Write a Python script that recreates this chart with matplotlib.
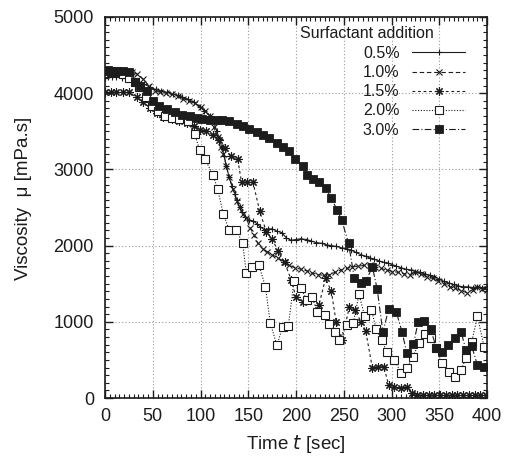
import matplotlib
matplotlib.use("Agg")
import matplotlib.pyplot as plt
from matplotlib.ticker import MultipleLocator

plt.rcParams['font.family'] = ['Liberation Sans', 'DejaVu Sans']

# ---------------- data ----------------
labels = ["0.5%", "1.0%", "1.5%", "2.0%", "3.0%"]
legend_title = "Surfactant addition"
x_label = "Time $t$ [sec]"
y_label = "Viscosity  μ [mPa.s]"

t05 = [0, 3, 7, 12, 18, 24, 29, 35, 41, 47, 53, 59, 65, 71, 76, 81, 87, 93, 99, 104,
       110, 114, 117, 120, 122, 125, 127, 130, 133, 136, 138, 141, 143, 147, 151, 155,
       159, 162, 167, 171, 175, 180, 185, 190, 195, 200, 205, 211, 216, 221, 227, 232,
       237, 242, 248, 253, 258, 263, 268, 273, 277, 282, 287, 292, 296, 301, 305, 310,
       315, 320, 325, 330, 335, 340, 345, 350, 355, 360, 365, 370, 375, 380, 385, 390,
       395, 400]
v05 = [4200, 4210, 4210, 4210, 4200, 4200, 4180, 4150, 4120, 4080, 4050, 4030, 4010,
       3990, 3970, 3950, 3920, 3880, 3820, 3770, 3700, 3620, 3500, 3400, 3300, 3170,
       3040, 2900, 2780, 2680, 2600, 2500, 2440, 2380, 2340, 2320, 2290, 2250, 2210,
       2220, 2220, 2190, 2170, 2100, 2070, 2080, 2090, 2080, 2060, 2040, 2030, 2010,
       2000, 1990, 1970, 1960, 1940, 1910, 1880, 1860, 1840, 1820, 1800, 1780, 1770,
       1750, 1730, 1710, 1690, 1680, 1660, 1650, 1630, 1610, 1590, 1560, 1530, 1510,
       1490, 1470, 1460, 1460, 1450, 1460, 1450, 1460]

t10 = [0, 5, 10, 16, 22, 28, 34, 40, 46, 52, 58, 64, 70, 76, 82, 88, 94, 100, 105, 110,
       114, 118, 121, 124, 127, 130, 134, 138, 141, 145, 148, 152, 156, 160, 165, 170,
       175, 181, 187, 193, 199, 205, 211, 217, 223, 229, 235, 241, 247, 253, 259, 265,
       271, 277, 283, 289, 295, 301, 307, 313, 319, 325, 331, 337, 343, 349, 355, 361,
       367, 373, 379, 385, 390, 395, 400]
v10 = [4280, 4290, 4290, 4290, 4290, 4280, 4250, 4180, 4100, 4030, 4010, 4000, 3990,
       3960, 3930, 3900, 3870, 3820, 3770, 3700, 3550, 3420, 3300, 3200, 3050, 2900,
       2740, 2580, 2500, 2420, 2360, 2230, 2140, 2030, 1960, 1920, 1880, 1840, 1790,
       1740, 1710, 1690, 1670, 1640, 1620, 1610, 1620, 1650, 1680, 1700, 1720, 1730,
       1740, 1750, 1720, 1700, 1680, 1660, 1650, 1630, 1620, 1650, 1630, 1590, 1570,
       1540, 1500, 1460, 1440, 1410, 1380, 1420, 1460, 1430, 1420]

t15 = [0, 6, 12, 19, 25, 33, 40, 47, 54, 61, 70, 78, 86, 93, 99, 106, 113, 119, 126,
       132, 139, 143, 149, 155, 162, 169, 175, 181, 188, 195, 200, 207, 212, 217, 224,
       231, 237, 242, 248, 256, 262, 268, 273, 280, 286, 292, 297, 303, 310, 316, 321,
       327, 333, 339, 345, 351, 357, 363, 369, 375, 381, 387, 393, 399]
v15 = [4020, 4020, 4020, 4020, 4010, 3950, 3880, 3810, 3740, 3690, 3660, 3630, 3610,
       3570, 3520, 3500, 3450, 3380, 3280, 3170, 3130, 2830, 2830, 2830, 2450, 2180,
       2090, 1930, 1780, 1550, 1320, 1260, 1290, 1320, 1220, 1570, 1400, 1000, 760,
       1200, 1150, 1000, 880, 390, 410, 410, 170, 145, 130, 145, 65, 40, 40, 40, 40,
       40, 40, 40, 40, 40, 40, 40, 40, 40]

t20 = [0, 6, 12, 19, 25, 31, 36, 43, 49, 55, 63, 70, 78, 87, 94, 99, 105, 113, 118,
       124, 130, 137, 144, 148, 154, 161, 168, 173, 180, 186, 192, 198, 205, 211, 217,
       222, 230, 235, 241, 245, 253, 260, 266, 272, 279, 284, 290, 295, 303, 310, 316,
       322, 329, 335, 341, 347, 353, 360, 366, 373, 378, 384, 390, 397]
v20 = [4270, 4280, 4280, 4250, 4200, 4150, 4080, 3950, 3830, 3760, 3700, 3680, 3660,
       3630, 3460, 3260, 3130, 2930, 2740, 2410, 2210, 2210, 2040, 1640, 1720, 1750,
       1460, 990, 690, 935, 950, 1540, 1450, 1290, 1330, 1130, 1090, 970, 870, 760,
       960, 990, 1360, 1070, 1160, 900, 760, 600, 500, 330, 390, 540, 720, 840, 790,
       660, 460, 340, 280, 370, 530, 740, 1070, 670]

t30 = [0, 3, 6, 9, 13, 19, 25, 31, 37, 44, 50, 57, 65, 73, 81, 89, 96, 102, 110, 117,
       123, 130, 138, 144, 151, 159, 165, 172, 180, 186, 193, 199, 207, 212, 218, 224,
       231, 237, 243, 248, 255, 261, 268, 273, 280, 285, 291, 297, 305, 311, 316, 323,
       328, 334, 341, 347, 353, 359, 366, 373, 378, 384, 390, 397]
v30 = [4290, 4300, 4290, 4290, 4290, 4290, 4280, 4150, 4100, 4030, 3900, 3830, 3790,
       3750, 3720, 3700, 3680, 3660, 3645, 3645, 3645, 3640, 3600, 3570, 3530, 3490,
       3450, 3410, 3350, 3300, 3240, 3130, 3040, 2930, 2870, 2830, 2760, 2620, 2470,
       2330, 2030, 1580, 1510, 1530, 1720, 1430, 860, 1170, 1130, 870, 590, 710, 1000,
       1010, 900, 660, 600, 700, 790, 860, 630, 680, 430, 410]

x_ticks = [0, 50, 100, 150, 200, 250, 300, 350, 400]
y_ticks = [0, 1000, 2000, 3000, 4000, 5000]

# ---------------- figure ----------------
W, H = 508, 461
fig = plt.figure(figsize=(W / 100, H / 100), dpi=100)
L, R, T, B = 105, 487, 17, 398
ax = fig.add_axes([L / W, 1 - B / H, (R - L) / W, (B - T) / H])

ink = '#1c1c1c'
series = [
    (t05, v05, dict(linestyle='-', marker='+', markersize=5, mew=0.8, mfc='none')),
    (t10, v10, dict(linestyle=(0, (4, 2.5)), marker='x', markersize=4, mew=0.8, mfc='none')),
    (t15, v15, dict(linestyle=(0, (2.5, 2.5)), marker=(8, 2, 0), markersize=6, mew=0.8, mfc='none')),
    (t20, v20, dict(linestyle=(0, (1, 1.5)), marker='s', markersize=5.8, mew=0.8, mfc='white')),
    (t30, v30, dict(linestyle=(0, (6, 2, 1, 2)), marker='s', markersize=6.3, mew=0.6, mfc=ink)),
]
handles = []
for (t, v, st), lab in zip(series, labels):
    h, = ax.plot(t, v, color=ink, lw=0.8, mec=ink, label=lab, **st)
    handles.append(h)

ax.set_xlim(0, 400)
ax.set_ylim(0, 5000)
ax.set_xticks(x_ticks)
ax.set_yticks(y_ticks)
ax.xaxis.set_minor_locator(MultipleLocator(5))
ax.yaxis.set_minor_locator(MultipleLocator(100))
ax.tick_params(which='both', direction='in', top=True, right=True, colors=ink)
ax.tick_params(which='major', length=6, width=1, labelsize=13, pad=7)
ax.tick_params(which='minor', length=3, width=0.8)
ax.tick_params(axis='y', which='major', pad=8)
for s in ax.spines.values():
    s.set_linewidth(1.2)
    s.set_color(ink)
ax.grid(True, which='major', color='#9a9a9a', linestyle=(0, (1, 2)), linewidth=0.8)
ax.set_axisbelow(True)

ax.set_xlabel(x_label, fontsize=13.5, color=ink)
ax.set_ylabel(y_label, fontsize=13.5, color=ink)
ax.xaxis.set_label_coords(0.5, -(433 - B) / (B - T), transform=ax.transAxes)
ax.yaxis.set_label_coords(-(L - 32) / (R - L), (B - 198) / (B - T), transform=ax.transAxes)

ax.text((300 - L) / (R - L), (B - 33) / (B - T), legend_title, transform=ax.transAxes,
        ha='left', va='center', fontsize=11.5, color=ink)
leg = ax.legend(handles=handles, loc='upper right',
                bbox_to_anchor=((465 - L) / (R - L), (B - 46) / (B - T)),
                frameon=False, markerfirst=False, fontsize=11.5, handlelength=3.3,
                handletextpad=0.8, labelspacing=0.26, borderpad=0, borderaxespad=0)
for txt in leg.get_texts():
    txt.set_color(ink)

fig.savefig('out.png', dpi=100)
